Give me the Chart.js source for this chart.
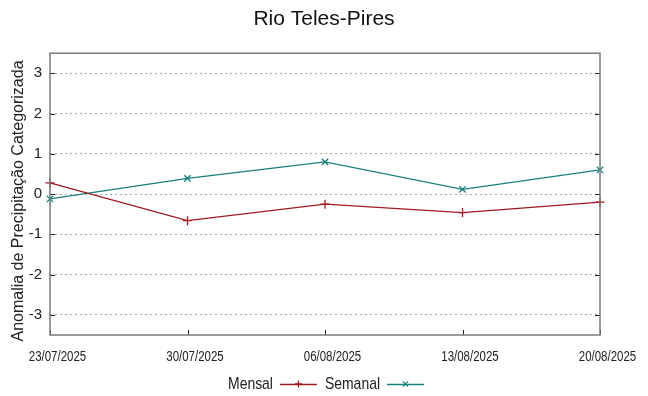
<!DOCTYPE html>
<html>
<head>
<meta charset="utf-8">
<script src="https://cdn.jsdelivr.net/npm/chart.js@4/dist/chart.umd.min.js"></script>
<style>
html,body{margin:0;padding:0;background:#fff;}
#wrap{width:648px;height:396px;}
</style>
</head>
<body>
<div id="wrap"><canvas id="c" width="648" height="396"></canvas></div>
<script>
const titleText = 'Rio Teles-Pires';
const yTitle = 'Anomalia de Precipitação Categorizada';
const categories = ['23/07/2025','30/07/2025','06/08/2025','13/08/2025','20/08/2025'];
const mensal = [0.28, -0.66, -0.25, -0.46, -0.20];
const semanal = [-0.12, 0.39, 0.80, 0.12, 0.60];
const yTicks = [-3, -2, -1, 0, 1, 2, 3];
const seriesNames = ['Mensal', 'Semanal'];
const seriesColors = ['#a11a20', '#17807e'];
const seriesMarkers = ['cross', 'crossRot'];

const NARROW = 0.82; // horizontal condensing of the narrow label font

const framePlugin = {
  id: 'frame',
  afterDatasetsDraw(chart) {
    const {ctx, chartArea: a} = chart;
    const x = chart.scales.x, y = chart.scales.y;
    ctx.save();
    ctx.strokeStyle = '#222';
    ctx.lineWidth = 1;
    y.ticks.forEach(t => {
      const py = Math.round(y.getPixelForValue(t.value)) + 0.5;
      ctx.beginPath();
      ctx.moveTo(a.left, py); ctx.lineTo(a.left + 5, py);
      ctx.moveTo(a.right, py); ctx.lineTo(a.right - 5, py);
      ctx.stroke();
    });
    categories.forEach((c, i) => {
      const px = Math.round(x.getPixelForValue(i)) + 0.5;
      ctx.beginPath();
      ctx.moveTo(px, a.bottom); ctx.lineTo(px, a.bottom - 5);
      ctx.stroke();
    });
    ctx.strokeStyle = '#7a7a7a';
    ctx.lineWidth = 1.5;
    ctx.strokeRect(a.left, a.top, a.right - a.left, a.bottom - a.top);
    ctx.restore();
  }
};

const textPlugin = {
  id: 'texts',
  afterDraw(chart) {
    const {ctx, chartArea: a} = chart;
    const x = chart.scales.x;
    ctx.save();
    // x tick labels (condensed)
    ctx.font = '14px "Liberation Sans", Arial, sans-serif';
    ctx.fillStyle = '#222';
    ctx.textAlign = 'center';
    ctx.textBaseline = 'middle';
    categories.forEach((c, i) => {
      const px = x.getPixelForValue(i);
      ctx.save();
      ctx.translate(px + 7.5, a.bottom + 22);
      ctx.scale(NARROW, 1);
      ctx.fillText(c, 0, 0);
      ctx.restore();
    });
    // y axis title
    ctx.save();
    ctx.font = '16px "Liberation Sans", Arial, sans-serif';
    ctx.translate(19, 201);
    ctx.rotate(-Math.PI / 2);
    ctx.fillText(yTitle, 0, 0);
    ctx.restore();
    // legend
    ctx.font = '17px "Liberation Sans", Arial, sans-serif';
    ctx.textAlign = 'left';
    const gapText = 7, lineLen = 37, gapAfter = 8;
    const widths = seriesNames.map(n => ctx.measureText(n).width * NARROW);
    let total = 0;
    widths.forEach((w, i) => { total += w + gapText + lineLen + (i < widths.length - 1 ? gapAfter : 0); });
    let cx = 326 - total / 2;
    const cy = 384;
    seriesNames.forEach((n, i) => {
      ctx.save();
      ctx.translate(cx, cy);
      ctx.scale(NARROW, 1);
      ctx.fillStyle = '#222';
      ctx.fillText(n, 0, 0);
      ctx.restore();
      cx += widths[i] + gapText;
      ctx.strokeStyle = seriesColors[i];
      ctx.lineWidth = 1.3;
      ctx.beginPath();
      ctx.moveTo(cx, cy + 0.5); ctx.lineTo(cx + lineLen, cy + 0.5);
      ctx.stroke();
      const mx = cx + lineLen / 2, r = 3.5;
      ctx.beginPath();
      if (seriesMarkers[i] === 'cross') {
        ctx.moveTo(mx, cy - r); ctx.lineTo(mx, cy + r);
        ctx.moveTo(mx - r, cy); ctx.lineTo(mx + r, cy);
      } else {
        const d = r * 0.75;
        ctx.moveTo(mx - d, cy - d); ctx.lineTo(mx + d, cy + d);
        ctx.moveTo(mx - d, cy + d); ctx.lineTo(mx + d, cy - d);
      }
      ctx.stroke();
      cx += lineLen + gapAfter;
    });
    ctx.restore();
  }
};

new Chart(document.getElementById('c'), {
  type: 'line',
  data: {
    labels: categories,
    datasets: [mensal, semanal].map((d, i) => ({
      label: seriesNames[i],
      data: d,
      borderColor: seriesColors[i],
      backgroundColor: seriesColors[i],
      borderWidth: 1.3,
      pointStyle: seriesMarkers[i],
      pointRadius: 4.5,
      pointBorderWidth: 1.3,
      pointBorderColor: seriesColors[i],
      pointHoverRadius: 4.5,
      tension: 0,
      fill: false
    }))
  },
  options: {
    responsive: false,
    animation: false,
    events: [],
    layout: {padding: 0},
    plugins: {
      legend: {display: false},
      tooltip: {enabled: false},
      title: {
        display: true,
        text: titleText,
        color: '#111',
        font: {family: '"Liberation Sans", Arial, sans-serif', size: 21, weight: 'normal'},
        padding: {top: 7, bottom: 21}
      }
    },
    scales: {
      x: {
        type: 'category',
        offset: false,
        grid: {display: false, drawTicks: false},
        border: {display: false},
        ticks: {display: false},
        afterFit: s => { s.height = 61; }
      },
      y: {
        min: -3.5,
        max: 3.5,
        afterBuildTicks: s => { s.ticks = yTicks.map(v => ({value: v})); },
        grid: {color: '#a8a8a8', lineWidth: 1, drawTicks: false, tickLength: 0},
        border: {display: false, dash: [2, 3]},
        ticks: {
          color: '#222',
          padding: 8,
          font: {family: '"Liberation Sans", Arial, sans-serif', size: 15}
        },
        afterFit: s => { s.width = 50; }
      },
      yr: {
        position: 'right',
        display: true,
        min: -3.5,
        max: 3.5,
        grid: {display: false, drawTicks: false},
        border: {display: false},
        ticks: {display: false},
        afterFit: s => { s.width = 48; }
      }
    }
  },
  plugins: [framePlugin, textPlugin]
});
</script>
</body>
</html>
